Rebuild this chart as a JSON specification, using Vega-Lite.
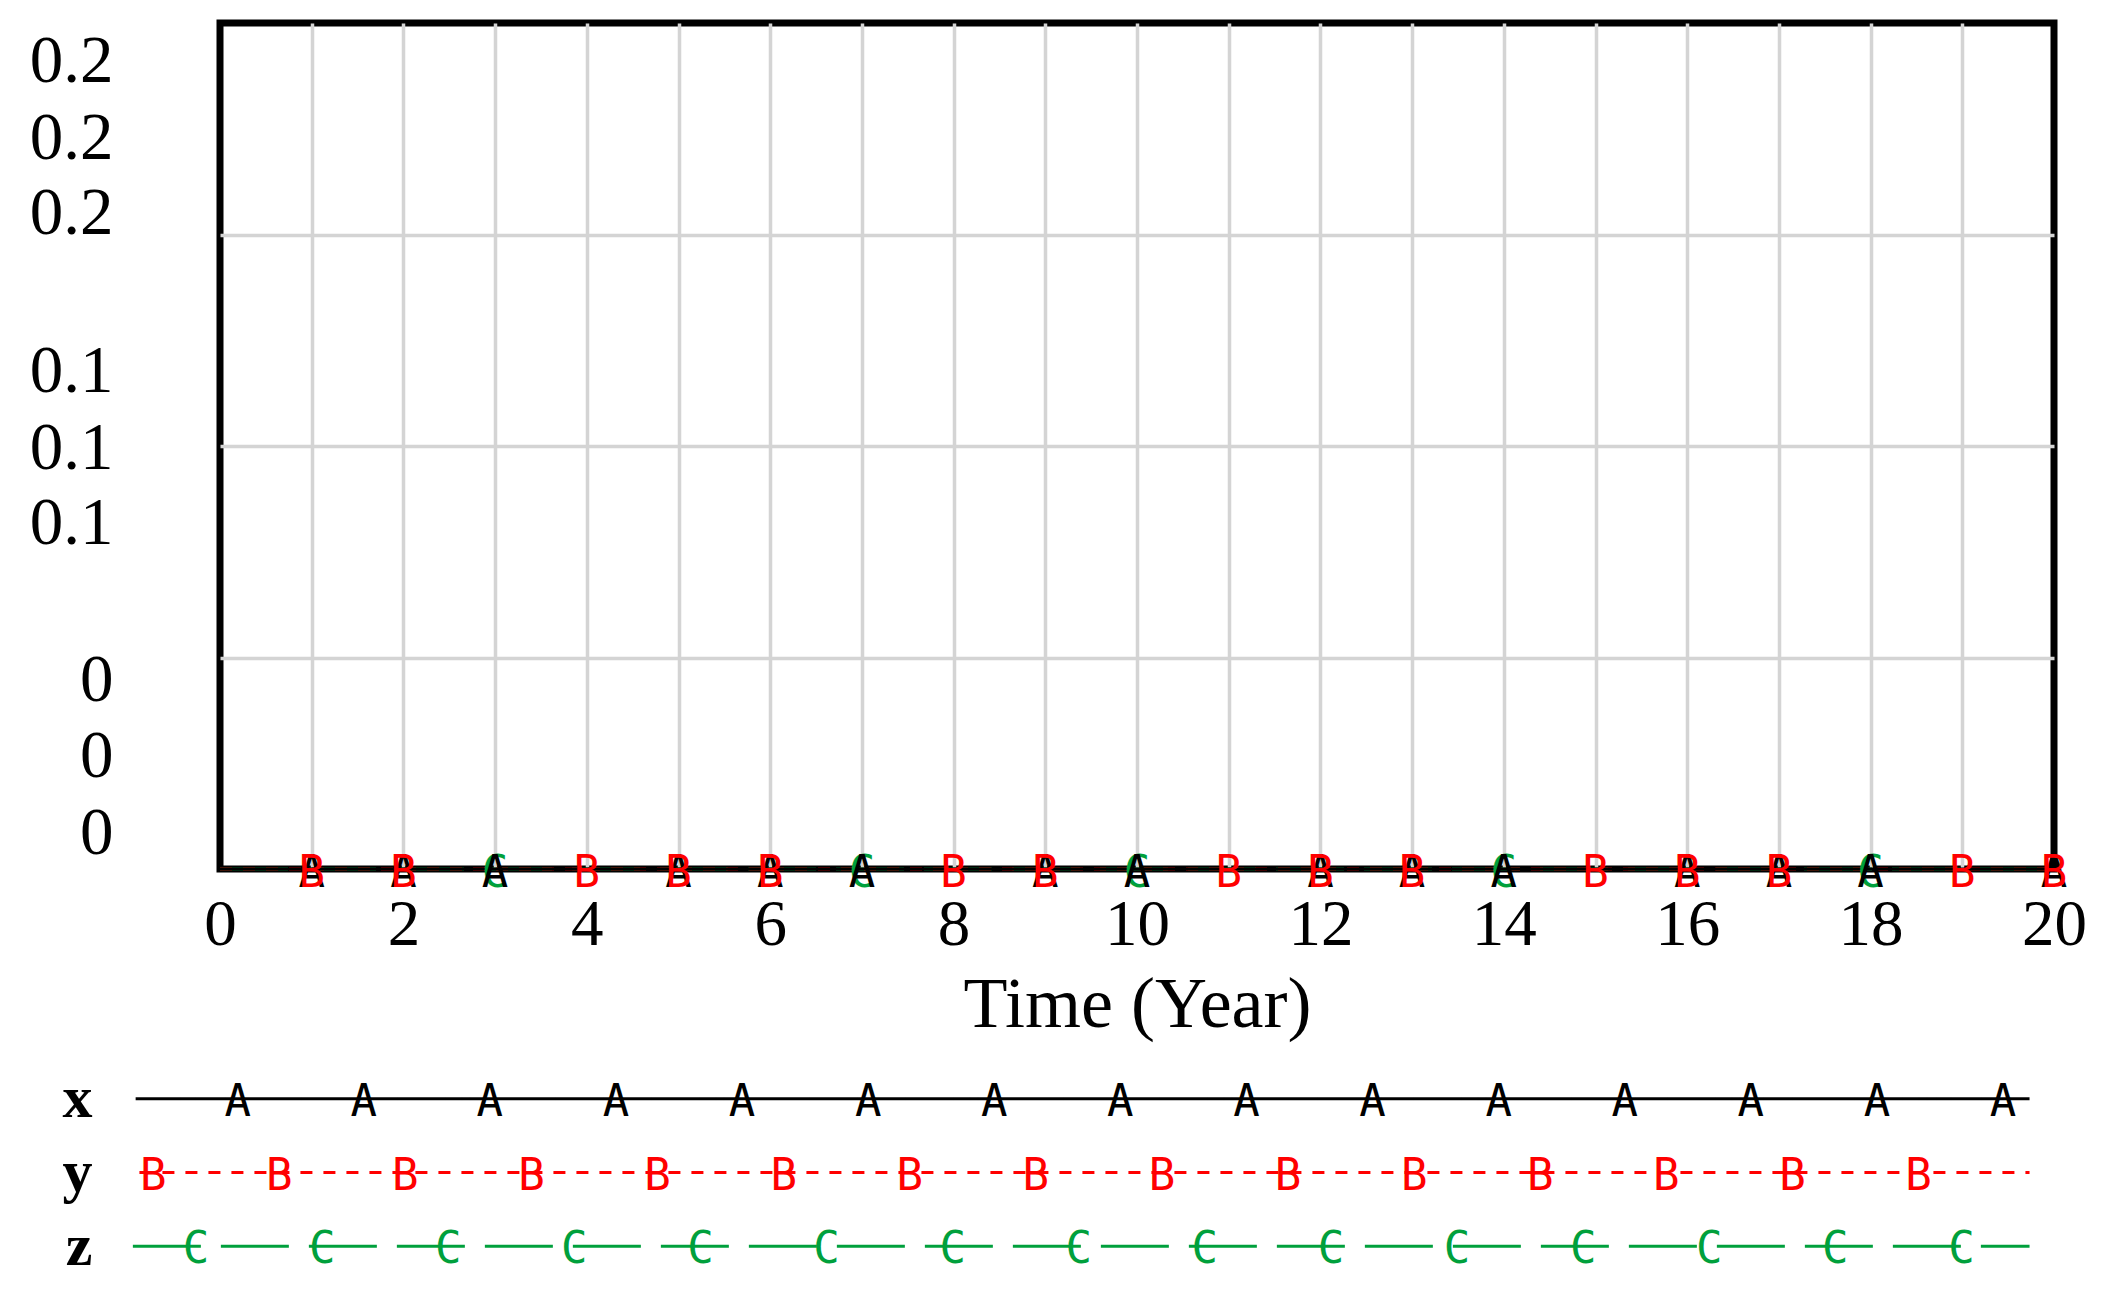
{
  "$schema": "https://vega.github.io/schema/vega-lite/v6.json",
  "background": "white",
  "padding": {"left": 22, "top": 19, "right": 5, "bottom": 5},
  "spacing": 18,
  "config": {
    "view": {"stroke": "black", "strokeWidth": 7},
    "axis": {"ticks": false, "tickSize": 0, "domain": false, "labelColor": "black", "titleColor": "black", "labelFont": "Liberation Serif", "titleFont": "Liberation Serif", "titleFontWeight": "normal"}
  },
  "datasets": {
    "series": [
      {"series": "z", "t": 0, "v": 0}, {"series": "z", "t": 1, "v": 0}, {"series": "z", "t": 2, "v": 0}, {"series": "z", "t": 3, "v": 0}, {"series": "z", "t": 4, "v": 0}, {"series": "z", "t": 5, "v": 0}, {"series": "z", "t": 6, "v": 0}, {"series": "z", "t": 7, "v": 0}, {"series": "z", "t": 8, "v": 0}, {"series": "z", "t": 9, "v": 0}, {"series": "z", "t": 10, "v": 0}, {"series": "z", "t": 11, "v": 0}, {"series": "z", "t": 12, "v": 0}, {"series": "z", "t": 13, "v": 0}, {"series": "z", "t": 14, "v": 0}, {"series": "z", "t": 15, "v": 0}, {"series": "z", "t": 16, "v": 0}, {"series": "z", "t": 17, "v": 0}, {"series": "z", "t": 18, "v": 0}, {"series": "z", "t": 19, "v": 0}, {"series": "z", "t": 20, "v": 0},
      {"series": "y", "t": 0, "v": 0}, {"series": "y", "t": 1, "v": 0}, {"series": "y", "t": 2, "v": 0}, {"series": "y", "t": 3, "v": 0}, {"series": "y", "t": 4, "v": 0}, {"series": "y", "t": 5, "v": 0}, {"series": "y", "t": 6, "v": 0}, {"series": "y", "t": 7, "v": 0}, {"series": "y", "t": 8, "v": 0}, {"series": "y", "t": 9, "v": 0}, {"series": "y", "t": 10, "v": 0}, {"series": "y", "t": 11, "v": 0}, {"series": "y", "t": 12, "v": 0}, {"series": "y", "t": 13, "v": 0}, {"series": "y", "t": 14, "v": 0}, {"series": "y", "t": 15, "v": 0}, {"series": "y", "t": 16, "v": 0}, {"series": "y", "t": 17, "v": 0}, {"series": "y", "t": 18, "v": 0}, {"series": "y", "t": 19, "v": 0}, {"series": "y", "t": 20, "v": 0},
      {"series": "x", "t": 0, "v": 0}, {"series": "x", "t": 1, "v": 0}, {"series": "x", "t": 2, "v": 0}, {"series": "x", "t": 3, "v": 0}, {"series": "x", "t": 4, "v": 0}, {"series": "x", "t": 5, "v": 0}, {"series": "x", "t": 6, "v": 0}, {"series": "x", "t": 7, "v": 0}, {"series": "x", "t": 8, "v": 0}, {"series": "x", "t": 9, "v": 0}, {"series": "x", "t": 10, "v": 0}, {"series": "x", "t": 11, "v": 0}, {"series": "x", "t": 12, "v": 0}, {"series": "x", "t": 13, "v": 0}, {"series": "x", "t": 14, "v": 0}, {"series": "x", "t": 15, "v": 0}, {"series": "x", "t": 16, "v": 0}, {"series": "x", "t": 17, "v": 0}, {"series": "x", "t": 18, "v": 0}, {"series": "x", "t": 19, "v": 0}, {"series": "x", "t": 20, "v": 0}
    ],
    "markers": [
      {"series": "z", "t": 3, "v": 0}, {"series": "z", "t": 7, "v": 0}, {"series": "z", "t": 10, "v": 0}, {"series": "z", "t": 14, "v": 0}, {"series": "z", "t": 18, "v": 0},
      {"series": "x", "t": 1, "v": 0}, {"series": "x", "t": 2, "v": 0}, {"series": "x", "t": 3, "v": 0}, {"series": "x", "t": 5, "v": 0}, {"series": "x", "t": 6, "v": 0}, {"series": "x", "t": 7, "v": 0}, {"series": "x", "t": 9, "v": 0}, {"series": "x", "t": 10, "v": 0}, {"series": "x", "t": 12, "v": 0}, {"series": "x", "t": 13, "v": 0}, {"series": "x", "t": 14, "v": 0}, {"series": "x", "t": 16, "v": 0}, {"series": "x", "t": 17, "v": 0}, {"series": "x", "t": 18, "v": 0}, {"series": "x", "t": 20, "v": 0},
      {"series": "y", "t": 1, "v": 0}, {"series": "y", "t": 2, "v": 0}, {"series": "y", "t": 4, "v": 0}, {"series": "y", "t": 5, "v": 0}, {"series": "y", "t": 6, "v": 0}, {"series": "y", "t": 8, "v": 0}, {"series": "y", "t": 9, "v": 0}, {"series": "y", "t": 11, "v": 0}, {"series": "y", "t": 12, "v": 0}, {"series": "y", "t": 13, "v": 0}, {"series": "y", "t": 15, "v": 0}, {"series": "y", "t": 16, "v": 0}, {"series": "y", "t": 17, "v": 0}, {"series": "y", "t": 19, "v": 0}, {"series": "y", "t": 20, "v": 0}
    ],
    "legendLines": [
      {"series": "z", "u": -0.691}, {"series": "z", "u": 14.35},
      {"series": "y", "u": -0.639}, {"series": "y", "u": 14.35},
      {"series": "x", "u": -0.669}, {"series": "x", "u": 14.35}
    ],
    "legendMarks": [
      {"series": "x", "u": 0.14}, {"series": "x", "u": 1.14}, {"series": "x", "u": 2.14}, {"series": "x", "u": 3.14}, {"series": "x", "u": 4.14}, {"series": "x", "u": 5.14}, {"series": "x", "u": 6.14}, {"series": "x", "u": 7.14}, {"series": "x", "u": 8.14}, {"series": "x", "u": 9.14}, {"series": "x", "u": 10.14}, {"series": "x", "u": 11.14}, {"series": "x", "u": 12.14}, {"series": "x", "u": 13.14}, {"series": "x", "u": 14.14},
      {"series": "y", "u": -0.53}, {"series": "y", "u": 0.47}, {"series": "y", "u": 1.47}, {"series": "y", "u": 2.47}, {"series": "y", "u": 3.47}, {"series": "y", "u": 4.47}, {"series": "y", "u": 5.47}, {"series": "y", "u": 6.47}, {"series": "y", "u": 7.47}, {"series": "y", "u": 8.47}, {"series": "y", "u": 9.47}, {"series": "y", "u": 10.47}, {"series": "y", "u": 11.47}, {"series": "y", "u": 12.47}, {"series": "y", "u": 13.47},
      {"series": "z", "u": -0.19}, {"series": "z", "u": 0.81}, {"series": "z", "u": 1.81}, {"series": "z", "u": 2.81}, {"series": "z", "u": 3.81}, {"series": "z", "u": 4.81}, {"series": "z", "u": 5.81}, {"series": "z", "u": 6.81}, {"series": "z", "u": 7.81}, {"series": "z", "u": 8.81}, {"series": "z", "u": 9.81}, {"series": "z", "u": 10.81}, {"series": "z", "u": 11.81}, {"series": "z", "u": 12.81}, {"series": "z", "u": 13.81}
    ]
  },
  "vconcat": [
    {
      "width": 1834,
      "height": 846,
      "resolve": {"axis": {"x": "independent", "y": "independent"}},
      "layer": [
        {
          "data": {"name": "series"},
          "mark": {"type": "line", "strokeWidth": 3},
          "encoding": {
            "x": {"field": "t", "type": "quantitative",
              "scale": {"domain": [0, 20], "nice": false, "zero": false},
              "axis": {"orient": "top", "values": [1,2,3,4,5,6,7,8,9,10,11,12,13,14,15,16,17,18,19],
                "grid": true, "gridColor": "#d4d4d4", "gridWidth": 3.5, "labels": false, "title": null, "minExtent": 0, "maxExtent": 0}},
            "y": {"field": "v", "type": "quantitative",
              "scale": {"domain": [0, 0.2], "nice": false, "zero": false},
              "axis": {"orient": "right", "values": [0.05, 0.1, 0.15], "grid": true, "gridColor": "#d4d4d4", "gridWidth": 3.5, "labels": false, "title": null, "minExtent": 0, "maxExtent": 0}},
            "color": {"field": "series", "type": "nominal", "scale": {"domain": ["x", "y", "z"], "range": ["#000000", "#ff0000", "#00a03c"]}, "legend": null},
            "strokeDash": {"field": "series", "type": "nominal", "scale": {"domain": ["x", "y", "z"], "range": [[1, 0], [12, 11], [68, 20]]}, "legend": null}
          }
        },
        {
          "data": {"name": "markers"},
          "transform": [{"calculate": "datum.series === 'x' ? 'A' : datum.series === 'y' ? 'B' : 'C'", "as": "letter"}],
          "mark": {"type": "text", "font": "DejaVu Sans Mono", "fontSize": 44, "align": "center", "baseline": "middle", "dy": 5},
          "encoding": {
            "x": {"field": "t", "type": "quantitative",
              "axis": {"orient": "bottom", "values": [0, 2, 4, 6, 8, 10, 12, 14, 16, 18, 20], "format": "d",
                "grid": false, "labelFontSize": 65, "labelPadding": 24, "labelFlush": false, "labelOverlap": false, "labelBound": false,
                "title": "Time (Year)", "titleFontSize": 72, "titlePadding": 12}},
            "y": {"field": "v", "type": "quantitative",
              "axis": {"orient": "left", "values": [0.0083, 0.0265, 0.0445, 0.0816, 0.0995, 0.1177, 0.1549, 0.1728, 0.1909],
                "labelExpr": "datum.value > 0.14 ? '0.2' : datum.value > 0.06 ? '0.1' : '0'",
                "grid": false, "labelFontSize": 67, "labelPadding": 107, "labelOverlap": false, "labelFlush": false, "labelBound": false, "labelBaseline": "middle",
                "title": null, "minExtent": 194, "maxExtent": 194}},
            "text": {"field": "letter", "type": "nominal"},
            "color": {"field": "series", "type": "nominal", "legend": null}
          }
        }
      ]
    },
    {
      "width": 1834,
      "height": 221,
      "view": {"stroke": null},
      "layer": [
        {
          "data": {"name": "legendLines"},
          "mark": {"type": "line", "strokeWidth": 3},
          "encoding": {
            "x": {"field": "u", "type": "quantitative", "scale": {"domain": [0, 14.544], "nice": false, "zero": false}, "axis": null},
            "y": {"field": "series", "type": "nominal", "scale": {"type": "point", "domain": ["x", "y", "z"], "padding": 0.5},
              "axis": {"labelFontSize": 60, "labelFontWeight": "bold", "labelPadding": 128, "title": null, "grid": false, "minExtent": 194, "maxExtent": 194}},
            "color": {"field": "series", "type": "nominal", "legend": null},
            "strokeDash": {"field": "series", "type": "nominal", "legend": null}
          }
        },
        {
          "data": {"name": "legendMarks"},
          "transform": [{"calculate": "datum.series === 'x' ? 'A' : datum.series === 'y' ? 'B' : 'C'", "as": "letter"}],
          "mark": {"type": "text", "font": "DejaVu Sans Mono", "fontSize": 44, "align": "center", "baseline": "middle", "dy": 4},
          "encoding": {
            "x": {"field": "u", "type": "quantitative"},
            "y": {"field": "series", "type": "nominal"},
            "text": {"field": "letter", "type": "nominal"},
            "color": {"field": "series", "type": "nominal", "legend": null}
          }
        }
      ]
    }
  ]
}
